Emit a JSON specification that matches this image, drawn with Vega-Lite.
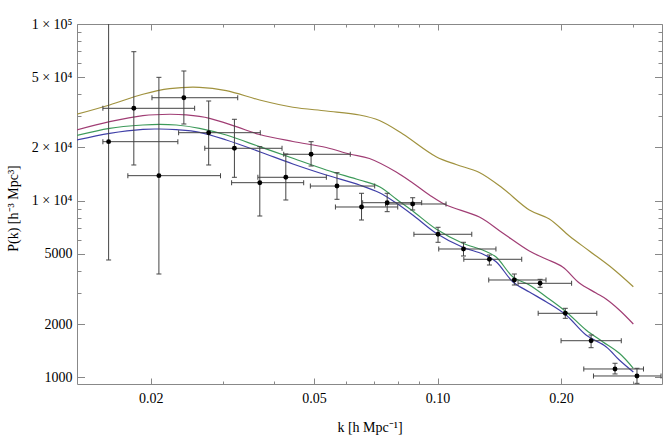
{
  "$schema": "https://vega.github.io/schema/vega-lite/v6.json",
  "width": 585,
  "height": 360,
  "autosize": {"type": "none"},
  "padding": {"left": 77, "top": 24, "right": 9, "bottom": 52},
  "background": "white",
  "config": {
    "view": {"stroke": "#888888", "strokeWidth": 1},
    "axis": {
      "labelFont": "Liberation Serif",
      "titleFont": "Liberation Serif",
      "labelFontSize": 14,
      "titleFontSize": 14,
      "titleFontWeight": "normal",
      "labelColor": "#000000",
      "titleColor": "#000000",
      "tickColor": "#888888",
      "domain": false,
      "grid": false,
      "tickWidth": 1,
      "labelFlush": false,
      "labelOverlap": false
    }
  },
  "datasets": {
    "points": [
      {"k": 0.0158, "P": 21560, "klo": 0.0153, "khi": 0.0233, "Plo": 4610, "Phi": 150000},
      {"k": 0.0182, "P": 33310, "klo": 0.0153, "khi": 0.0256, "Plo": 15910, "Phi": 69680},
      {"k": 0.02095, "P": 13840, "klo": 0.0176, "khi": 0.0296, "Plo": 3840, "Phi": 49890},
      {"k": 0.0241, "P": 38240, "klo": 0.02015, "khi": 0.0326, "Plo": 27150, "Phi": 54190},
      {"k": 0.0277, "P": 24240, "klo": 0.0234, "khi": 0.0370, "Plo": 15910, "Phi": 36640},
      {"k": 0.0320, "P": 19780, "klo": 0.0271, "khi": 0.0418, "Plo": 13550, "Phi": 28870},
      {"k": 0.0369, "P": 12630, "klo": 0.0315, "khi": 0.0472, "Plo": 8180, "Phi": 20200},
      {"k": 0.0427, "P": 13550, "klo": 0.0365, "khi": 0.0536, "Plo": 10080, "Phi": 18360},
      {"k": 0.0492, "P": 18290, "klo": 0.0422, "khi": 0.0613, "Plo": 15700, "Phi": 21560},
      {"k": 0.0569, "P": 12090, "klo": 0.0490, "khi": 0.0703, "Plo": 10170, "Phi": 14390},
      {"k": 0.0653, "P": 9200, "klo": 0.0564, "khi": 0.0800, "Plo": 7765, "Phi": 11000},
      {"k": 0.0754, "P": 9730, "klo": 0.0657, "khi": 0.0915, "Plo": 8655, "Phi": 11000},
      {"k": 0.0870, "P": 9566, "klo": 0.0747, "khi": 0.1049, "Plo": 8847, "Phi": 10380},
      {"k": 0.1003, "P": 6446, "klo": 0.0876, "khi": 0.1212, "Plo": 5806, "Phi": 7061},
      {"k": 0.1157, "P": 5320, "klo": 0.1007, "khi": 0.1388, "Plo": 4858, "Phi": 5806},
      {"k": 0.1338, "P": 4652, "klo": 0.1159, "khi": 0.1604, "Plo": 4318, "Phi": 4920},
      {"k": 0.1539, "P": 3551, "klo": 0.1333, "khi": 0.1838, "Plo": 3327, "Phi": 3840},
      {"k": 0.1778, "P": 3401, "klo": 0.1571, "khi": 0.2122, "Plo": 3229, "Phi": 3583},
      {"k": 0.2048, "P": 2300, "klo": 0.1759, "khi": 0.2444, "Plo": 2155, "Phi": 2455},
      {"k": 0.2367, "P": 1609, "klo": 0.2000, "khi": 0.2804, "Plo": 1469, "Phi": 1734},
      {"k": 0.2707, "P": 1113, "klo": 0.2272, "khi": 0.3176, "Plo": 1043, "Phi": 1199},
      {"k": 0.3062, "P": 1016, "klo": 0.2399, "khi": 0.3504, "Plo": 923, "Phi": 1123}
    ],
    "curves": [
      {"model": "gold", "k": 0.01321, "P": 30820},
      {"model": "gold", "k": 0.01589, "P": 34790},
      {"model": "gold", "k": 0.01915, "P": 39990},
      {"model": "gold", "k": 0.02225, "P": 43020},
      {"model": "gold", "k": 0.02632, "P": 43810},
      {"model": "gold", "k": 0.03058, "P": 41910},
      {"model": "gold", "k": 0.03686, "P": 37120},
      {"model": "gold", "k": 0.04443, "P": 33760},
      {"model": "gold", "k": 0.05358, "P": 32170},
      {"model": "gold", "k": 0.06458, "P": 30540},
      {"model": "gold", "k": 0.07221, "P": 28420},
      {"model": "gold", "k": 0.08231, "P": 23840},
      {"model": "gold", "k": 0.09923, "P": 17730},
      {"model": "gold", "k": 0.11101, "P": 16010},
      {"model": "gold", "k": 0.12647, "P": 14430},
      {"model": "gold", "k": 0.14415, "P": 11740},
      {"model": "gold", "k": 0.16742, "P": 8845},
      {"model": "gold", "k": 0.18729, "P": 7867},
      {"model": "gold", "k": 0.20952, "P": 6303},
      {"model": "gold", "k": 0.23438, "P": 5183},
      {"model": "gold", "k": 0.26708, "P": 4126},
      {"model": "gold", "k": 0.30, "P": 3254},
      {"model": "magenta", "k": 0.01321, "P": 25110},
      {"model": "magenta", "k": 0.01589, "P": 27970},
      {"model": "magenta", "k": 0.01915, "P": 30260},
      {"model": "magenta", "k": 0.02225, "P": 30820},
      {"model": "magenta", "k": 0.02443, "P": 30540},
      {"model": "magenta", "k": 0.02784, "P": 29240},
      {"model": "magenta", "k": 0.03234, "P": 26210},
      {"model": "magenta", "k": 0.03686, "P": 23680},
      {"model": "magenta", "k": 0.04443, "P": 21610},
      {"model": "magenta", "k": 0.05358, "P": 19980},
      {"model": "magenta", "k": 0.06102, "P": 18360},
      {"model": "magenta", "k": 0.06827, "P": 17310},
      {"model": "magenta", "k": 0.07932, "P": 14520},
      {"model": "magenta", "k": 0.08705, "P": 12580},
      {"model": "magenta", "k": 0.09557, "P": 10760},
      {"model": "magenta", "k": 0.10496, "P": 9444},
      {"model": "magenta", "k": 0.12647, "P": 8074},
      {"model": "magenta", "k": 0.14415, "P": 6555},
      {"model": "magenta", "k": 0.16742, "P": 5183},
      {"model": "magenta", "k": 0.18386, "P": 4670},
      {"model": "magenta", "k": 0.2018, "P": 4208},
      {"model": "magenta", "k": 0.2216, "P": 3415},
      {"model": "magenta", "k": 0.24334, "P": 2998},
      {"model": "magenta", "k": 0.25738, "P": 2772},
      {"model": "magenta", "k": 0.27732, "P": 2402},
      {"model": "magenta", "k": 0.30, "P": 2001},
      {"model": "green", "k": 0.01321, "P": 23370},
      {"model": "green", "k": 0.01589, "P": 25670},
      {"model": "green", "k": 0.01915, "P": 26800},
      {"model": "green", "k": 0.02104, "P": 27040},
      {"model": "green", "k": 0.02310, "P": 26800},
      {"model": "green", "k": 0.02632, "P": 25670},
      {"model": "green", "k": 0.03058, "P": 23520},
      {"model": "green", "k": 0.03686, "P": 20200},
      {"model": "green", "k": 0.04443, "P": 17360},
      {"model": "green", "k": 0.05358, "P": 14910},
      {"model": "green", "k": 0.06458, "P": 13080},
      {"model": "green", "k": 0.07221, "P": 11980},
      {"model": "green", "k": 0.07932, "P": 10210},
      {"model": "green", "k": 0.08705, "P": 8731},
      {"model": "green", "k": 0.09923, "P": 6905},
      {"model": "green", "k": 0.11520, "P": 5731},
      {"model": "green", "k": 0.12884, "P": 5251},
      {"model": "green", "k": 0.13892, "P": 4793},
      {"model": "green", "k": 0.15247, "P": 3708},
      {"model": "green", "k": 0.16742, "P": 3327},
      {"model": "green", "k": 0.18386, "P": 2857},
      {"model": "green", "k": 0.20568, "P": 2349},
      {"model": "green", "k": 0.23008, "P": 1850},
      {"model": "green", "k": 0.25252, "P": 1589},
      {"model": "green", "k": 0.27732, "P": 1366},
      {"model": "green", "k": 0.30, "P": 1123},
      {"model": "blue", "k": 0.01321, "P": 22030},
      {"model": "blue", "k": 0.01589, "P": 24050},
      {"model": "blue", "k": 0.01915, "P": 25330},
      {"model": "blue", "k": 0.02104, "P": 25430},
      {"model": "blue", "k": 0.02310, "P": 25200},
      {"model": "blue", "k": 0.02632, "P": 24360},
      {"model": "blue", "k": 0.03058, "P": 22030},
      {"model": "blue", "k": 0.03686, "P": 18920},
      {"model": "blue", "k": 0.04443, "P": 16120},
      {"model": "blue", "k": 0.05358, "P": 13960},
      {"model": "blue", "k": 0.06458, "P": 12250},
      {"model": "blue", "k": 0.07221, "P": 11080},
      {"model": "blue", "k": 0.07932, "P": 9692},
      {"model": "blue", "k": 0.08705, "P": 8287},
      {"model": "blue", "k": 0.09923, "P": 6529},
      {"model": "blue", "k": 0.11520, "P": 5440},
      {"model": "blue", "k": 0.12884, "P": 4985},
      {"model": "blue", "k": 0.13892, "P": 4509},
      {"model": "blue", "k": 0.15247, "P": 3474},
      {"model": "blue", "k": 0.16742, "P": 3037},
      {"model": "blue", "k": 0.18386, "P": 2676},
      {"model": "blue", "k": 0.20568, "P": 2250},
      {"model": "blue", "k": 0.23008, "P": 1734},
      {"model": "blue", "k": 0.25738, "P": 1488},
      {"model": "blue", "k": 0.27732, "P": 1251},
      {"model": "blue", "k": 0.30, "P": 1070}
    ]
  },
  "layer": [
    {
      "data": {"name": "points"},
      "mark": {"type": "point", "opacity": 0},
      "encoding": {
        "x": {"field": "k", "type": "quantitative", "scale": {"type": "log", "domain": [0.013232, 0.35236], "nice": false},
          "axis": {"orient": "bottom", "values": [0.02, 0.05, 0.1, 0.2], "format": ".2f", "tickSize": -6, "labelPadding": 13,
            "title": "k [h  Mpc⁻¹]", "titleY": 47, "titleBaseline": "alphabetic"}},
        "y": {"field": "P", "type": "quantitative", "scale": {"type": "log", "domain": [915, 100000], "nice": false},
          "axis": {"orient": "left", "values": [1000, 2000, 5000, 10000, 20000, 50000, 100000],
            "labelExpr": "datum.value >= 100000 ? '1 × 10⁵' : (datum.value >= 10000 ? format(datum.value / 10000, 'd') + ' × 10⁴' : format(datum.value, 'd'))",
            "tickSize": -7.5, "labelPadding": 12.5,
            "title": "P(k) [h⁻³ Mpc³]", "titleX": -60, "titleY": 184, "titleAngle": 270, "titleAlign": "center", "titleBaseline": "alphabetic"}}
      }
    },
    {
      "data": {"name": "points"},
      "mark": {"type": "point", "opacity": 0},
      "encoding": {
        "x": {"field": "k", "type": "quantitative", "scale": {"type": "log", "domain": [0.013232, 0.35236], "nice": false},
          "axis": {"orient": "top", "values": [0.02, 0.05, 0.1, 0.2], "labels": false, "tickSize": -6, "title": null}},
        "y": {"field": "P", "type": "quantitative", "scale": {"type": "log", "domain": [915, 100000], "nice": false},
          "axis": {"orient": "right", "values": [1000, 2000, 5000, 10000, 20000, 50000, 100000], "labels": false, "tickSize": -7.5, "title": null}}
      }
    },
    {
      "data": {"name": "points"},
      "mark": {"type": "point", "opacity": 0},
      "encoding": {
        "x": {"field": "k", "type": "quantitative", "scale": {"type": "log", "domain": [0.013232, 0.35236], "nice": false},
          "axis": {"orient": "bottom", "values": [0.03, 0.04, 0.06, 0.07, 0.08, 0.09, 0.3], "labels": false, "tickSize": -3, "title": null}},
        "y": {"field": "P", "type": "quantitative", "scale": {"type": "log", "domain": [915, 100000], "nice": false},
          "axis": {"orient": "left", "values": [3000, 4000, 6000, 7000, 8000, 9000, 30000, 40000, 60000, 70000, 80000, 90000], "labels": false, "tickSize": -4, "title": null}}
      }
    },
    {
      "data": {"name": "points"},
      "mark": {"type": "point", "opacity": 0},
      "encoding": {
        "x": {"field": "k", "type": "quantitative", "scale": {"type": "log", "domain": [0.013232, 0.35236], "nice": false},
          "axis": {"orient": "top", "values": [0.03, 0.04, 0.06, 0.07, 0.08, 0.09, 0.3], "labels": false, "tickSize": -3, "title": null}},
        "y": {"field": "P", "type": "quantitative", "scale": {"type": "log", "domain": [915, 100000], "nice": false},
          "axis": {"orient": "right", "values": [3000, 4000, 6000, 7000, 8000, 9000, 30000, 40000, 60000, 70000, 80000, 90000], "labels": false, "tickSize": -4, "title": null}}
      }
    },
    {
      "data": {"name": "curves"},
      "mark": {"type": "line", "strokeWidth": 1.2, "interpolate": "catmull-rom", "clip": true},
      "encoding": {
        "x": {"field": "k", "type": "quantitative", "scale": {"type": "log", "domain": [0.013232, 0.35236], "nice": false}, "axis": null},
        "y": {"field": "P", "type": "quantitative", "scale": {"type": "log", "domain": [915, 100000], "nice": false}, "axis": null},
        "color": {"field": "model", "type": "nominal", "legend": null,
          "scale": {"domain": ["gold", "magenta", "green", "blue"], "range": ["#a0923e", "#a03d74", "#3d9a5a", "#4040a8"]}},
        "order": {"field": "k", "type": "quantitative"}
      }
    },
    {
      "data": {"name": "points"},
      "mark": {"type": "rule", "color": "#444444", "strokeWidth": 1, "clip": true},
      "encoding": {
        "x": {"field": "klo", "type": "quantitative", "scale": {"type": "log", "domain": [0.013232, 0.35236], "nice": false}, "axis": null},
        "x2": {"field": "khi"},
        "y": {"field": "P", "type": "quantitative", "scale": {"type": "log", "domain": [915, 100000], "nice": false}, "axis": null}
      }
    },
    {
      "data": {"name": "points"},
      "mark": {"type": "rule", "color": "#444444", "strokeWidth": 1, "clip": true},
      "encoding": {
        "x": {"field": "k", "type": "quantitative", "scale": {"type": "log", "domain": [0.013232, 0.35236], "nice": false}, "axis": null},
        "y": {"field": "Plo", "type": "quantitative", "scale": {"type": "log", "domain": [915, 100000], "nice": false}, "axis": null},
        "y2": {"field": "Phi"}
      }
    },
    {
      "data": {"name": "points"},
      "mark": {"type": "tick", "orient": "vertical", "size": 5, "thickness": 1, "color": "#444444", "opacity": 1, "clip": true},
      "encoding": {
        "x": {"field": "klo", "type": "quantitative", "scale": {"type": "log", "domain": [0.013232, 0.35236], "nice": false}, "axis": null},
        "y": {"field": "P", "type": "quantitative", "scale": {"type": "log", "domain": [915, 100000], "nice": false}, "axis": null}
      }
    },
    {
      "data": {"name": "points"},
      "mark": {"type": "tick", "orient": "vertical", "size": 5, "thickness": 1, "color": "#444444", "opacity": 1, "clip": true},
      "encoding": {
        "x": {"field": "khi", "type": "quantitative", "scale": {"type": "log", "domain": [0.013232, 0.35236], "nice": false}, "axis": null},
        "y": {"field": "P", "type": "quantitative", "scale": {"type": "log", "domain": [915, 100000], "nice": false}, "axis": null}
      }
    },
    {
      "data": {"name": "points"},
      "mark": {"type": "tick", "orient": "horizontal", "size": 5, "thickness": 1, "color": "#444444", "opacity": 1, "clip": true},
      "encoding": {
        "x": {"field": "k", "type": "quantitative", "scale": {"type": "log", "domain": [0.013232, 0.35236], "nice": false}, "axis": null},
        "y": {"field": "Plo", "type": "quantitative", "scale": {"type": "log", "domain": [915, 100000], "nice": false}, "axis": null}
      }
    },
    {
      "data": {"name": "points"},
      "mark": {"type": "tick", "orient": "horizontal", "size": 5, "thickness": 1, "color": "#444444", "opacity": 1, "clip": true},
      "encoding": {
        "x": {"field": "k", "type": "quantitative", "scale": {"type": "log", "domain": [0.013232, 0.35236], "nice": false}, "axis": null},
        "y": {"field": "Phi", "type": "quantitative", "scale": {"type": "log", "domain": [915, 100000], "nice": false}, "axis": null}
      }
    },
    {
      "data": {"name": "points"},
      "mark": {"type": "circle", "color": "#000000", "opacity": 1, "size": 24},
      "encoding": {
        "x": {"field": "k", "type": "quantitative", "scale": {"type": "log", "domain": [0.013232, 0.35236], "nice": false}, "axis": null},
        "y": {"field": "P", "type": "quantitative", "scale": {"type": "log", "domain": [915, 100000], "nice": false}, "axis": null}
      }
    }
  ],
  "resolve": {"axis": {"x": "independent", "y": "independent"}}
}
